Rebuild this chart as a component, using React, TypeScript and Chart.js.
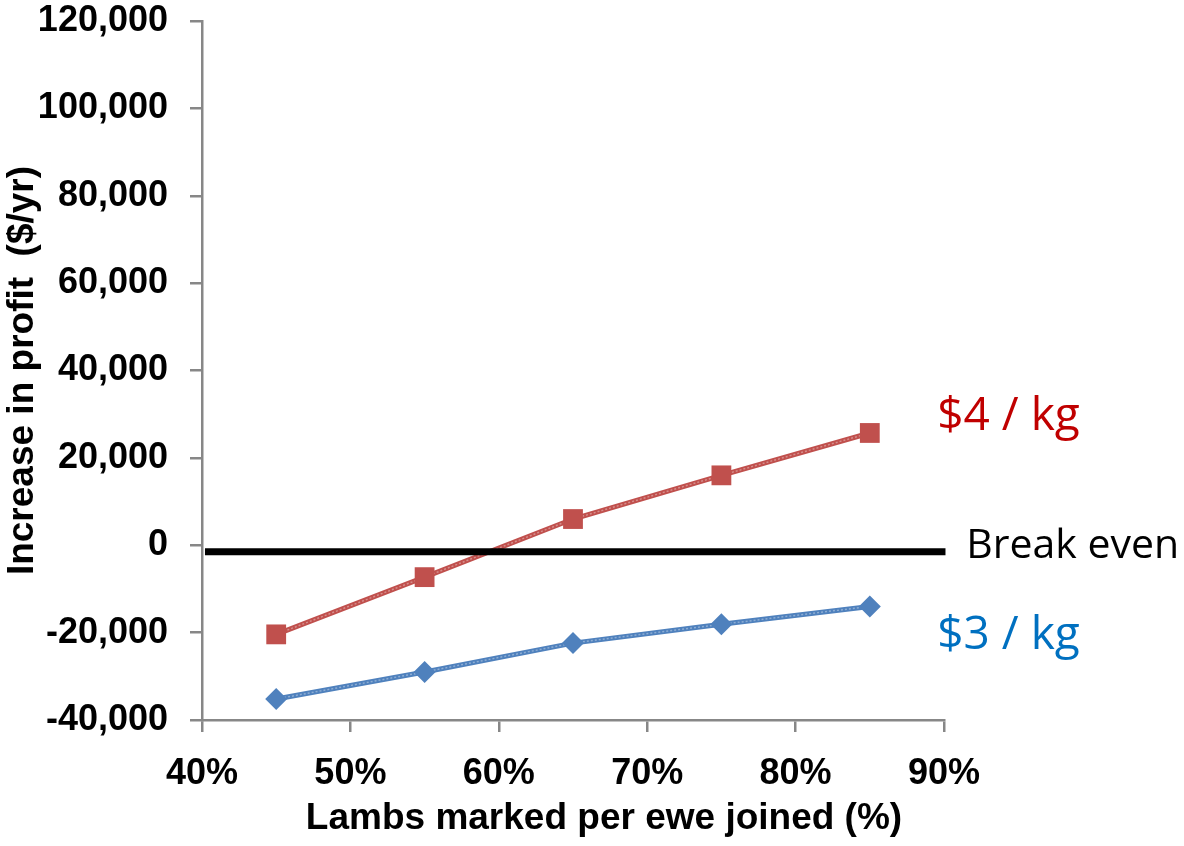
import React, { useEffect, useRef } from "react";
import { Chart, registerables } from "chart.js";

Chart.register(...registerables);

const xValues = [45, 55, 65, 75, 85];
const price4Values = [-20400, -7300, 6000, 16000, 25700];
const price3Values = [-35200, -29000, -22400, -18100, -14000];
const breakEvenValue = -1500;
const breakEvenRange = [40.2, 90.1];
const xTicks = { min: 40, max: 90, step: 10 };
const yTicks = { min: -40000, max: 120000, step: 20000 };
const xTitle = "Lambs marked per ewe joined (%)";
const yTitle = "Increase in profit  ($/yr)";
const annotations = [
  { text: "$4 / kg", x: 89.55, y: 26300, color: "#C00000", size: 46 },
  { text: "Break even", x: 91.5, y: -3000, color: "#000000", size: 41 },
  { text: "$3 / kg", x: 89.55, y: -23800, color: "#0070C0", size: 46 },
];

const RED = "#C0504D";
const BLUE = "#4F81BD";
const AXIS = "#878787";
const ARIAL = '"Liberation Sans", Arial, sans-serif';

const toPts = (ys: number[]) => xValues.map((x, i) => ({ x, y: ys[i] }));

const annotationPlugin = {
  id: "annotationText",
  afterDraw(chart: any) {
    const ctx = chart.ctx;
    const xs = chart.scales.x;
    const ys = chart.scales.y;
    const area = chart.chartArea;
    ctx.save();
    annotations.forEach((a) => {
      ctx.font = `${a.size}px "Open Sans", sans-serif`;
      ctx.fillStyle = a.color;
      ctx.textAlign = "left";
      ctx.textBaseline = "alphabetic";
      ctx.fillText(a.text, xs.getPixelForValue(a.x), ys.getPixelForValue(a.y));
    });
    // x axis title
    ctx.font = `bold 37px ${ARIAL}`;
    ctx.fillStyle = "#000";
    ctx.textAlign = "center";
    ctx.textBaseline = "alphabetic";
    ctx.fillText(xTitle, (area.left + area.right) / 2 + 31, area.bottom + 109);
    ctx.restore();
  },
};

export default function App() {
  const ref = useRef<HTMLCanvasElement>(null);
  useEffect(() => {
    if (!ref.current) return;
    const tickFont = { family: ARIAL, size: 36, weight: "bold" as const };
    const chart = new Chart(ref.current, {
      type: "line",
      data: {
        datasets: [
          {
            data: [
              { x: breakEvenRange[0], y: breakEvenValue },
              { x: breakEvenRange[1], y: breakEvenValue },
            ],
            borderColor: "#000",
            borderWidth: 7,
            pointRadius: 0,
          },
          {
            data: toPts(price4Values),
            showLine: false,
            pointStyle: "rect",
            pointRadius: 14,
            backgroundColor: RED,
            borderColor: RED,
            borderWidth: 0,
          },
          {
            data: toPts(price3Values),
            showLine: false,
            pointStyle: "rectRot",
            pointRadius: 11,
            backgroundColor: BLUE,
            borderColor: BLUE,
            borderWidth: 0,
          },
          {
            data: toPts(price4Values),
            borderColor: "rgba(255,255,255,0.35)",
            borderWidth: 1.5,
            borderDash: [2, 2],
            pointRadius: 0,
          },
          {
            data: toPts(price3Values),
            borderColor: "rgba(255,255,255,0.35)",
            borderWidth: 1.5,
            borderDash: [2, 2],
            pointRadius: 0,
          },
          {
            data: toPts(price4Values),
            borderColor: RED,
            borderWidth: 5,
            pointRadius: 0,
          },
          {
            data: toPts(price3Values),
            borderColor: BLUE,
            borderWidth: 5,
            pointRadius: 0,
          },
        ],
      },
      options: {
        animation: false,
        responsive: false,
        clip: false as any,
        layout: { padding: { left: 0, top: 21, right: 240, bottom: 0 } },
        plugins: { legend: { display: false }, tooltip: { enabled: false } },
        scales: {
          x: {
            type: "linear",
            min: xTicks.min,
            max: xTicks.max,
            ticks: {
              stepSize: xTicks.step,
              font: tickFont,
              color: "#000",
              padding: 20,
              maxRotation: 0,
              callback: (v: any) => `${v}%`,
            },
            grid: { drawOnChartArea: false, drawTicks: true, tickLength: 12, color: AXIS, lineWidth: 2.5 },
            border: { display: true, color: AXIS, width: 2.5 },
            title: { display: false },
            afterFit: (s: any) => {
              s.height = 126;
              s.paddingLeft = 0;
              s.paddingRight = 0;
            },
          },
          y: {
            type: "linear",
            min: yTicks.min,
            max: yTicks.max,
            ticks: {
              stepSize: yTicks.step,
              font: tickFont,
              color: "#000",
              padding: 22,
              callback: (v: any) => Number(v).toLocaleString("en-US"),
            },
            grid: { drawOnChartArea: false, drawTicks: true, tickLength: 12, color: AXIS, lineWidth: 2.5 },
            border: { display: true, color: AXIS, width: 2.5 },
            title: {
              display: true,
              text: yTitle,
              font: { family: ARIAL, size: 37, weight: "bold" },
              color: "#000",
              padding: { top: 1, bottom: 0 },
            },
            afterFit: (s: any) => {
              s.width = 202;
              s.paddingTop = 0;
              s.paddingBottom = 0;
            },
          },
        },
      },
      plugins: [annotationPlugin],
    });
    return () => chart.destroy();
  }, []);
  return (
    <div style={{ position: "absolute", left: 0, top: 0, width: 1184, height: 846, background: "#fff" }}>
      <canvas ref={ref} width={1184} height={846} style={{ display: "block" }} />
    </div>
  );
}
